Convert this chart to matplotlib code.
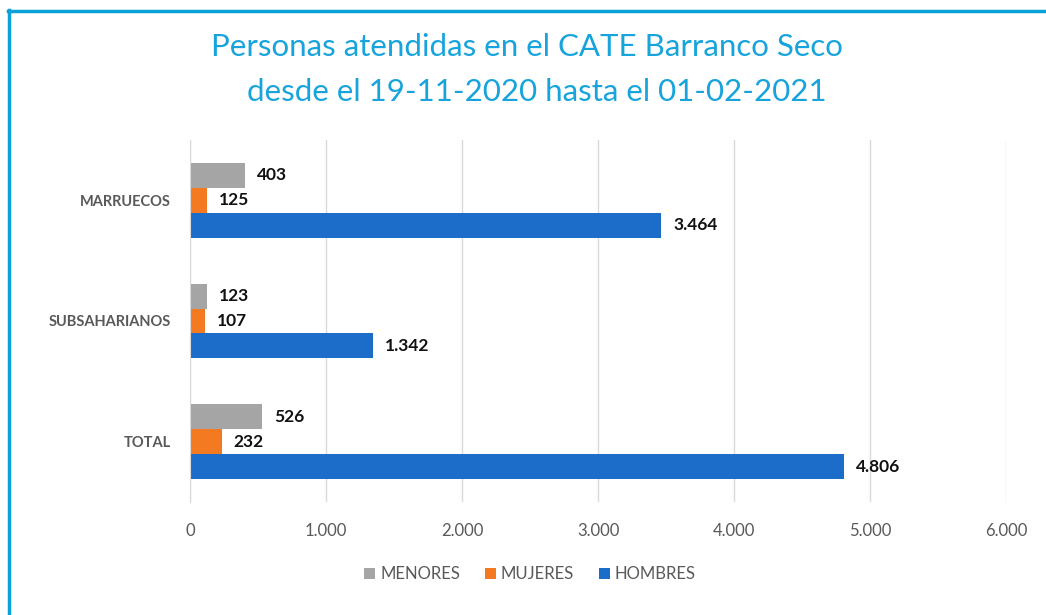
import matplotlib
matplotlib.use("Agg")
import matplotlib.pyplot as plt
import numpy as np
from matplotlib.lines import Line2D
from matplotlib.patches import Patch

categories = ["MARRUECOS", "SUBSAHARIANOS", "TOTAL"]
series_names = ["MENORES", "MUJERES", "HOMBRES"]
menores = [403, 123, 526]
mujeres = [125, 107, 232]
hombres = [3464, 1342, 4806]
xticks = [0, 1000, 2000, 3000, 4000, 5000, 6000]

colors = ["#A5A5A5", "#F37A20", "#1B6DC9"]
title_color = "#17A4DC"
frame_color = "#0AA0D8"

plt.rcParams['font.family'] = ['Lato', 'DejaVu Sans']

def fmt(v):
    return f"{v:,}".replace(",", ".")

fig = plt.figure(figsize=(10.46, 6.15), dpi=100)
ax = fig.add_axes([190/1046, 1-502/615, (1006-190)/1046, (502-140)/615])

n = len(categories)
ypos = np.arange(n)[::-1].astype(float)  # MARRUECOS top
bh = 0.207
offsets = [-bh, 0, bh]
data = [menores, mujeres, hombres]
for s, (vals, c, off) in enumerate(zip(data, colors, offsets)):
    y = ypos - off
    ax.barh(y, vals, height=bh, color=c, zorder=3)
    for yy, v in zip(y, vals):
        ax.text(v + 90, yy, fmt(v), va='center', ha='left', fontsize=12.5,
                fontweight='bold', color='#111111', zorder=4)

ax.set_xlim(0, 6000)
ax.set_ylim(-0.5, n - 0.5)
ax.set_xticks(xticks)
ax.set_xticklabels([fmt(t) for t in xticks], fontsize=12, color='#595959')
ax.set_yticks(ypos)
ax.set_yticklabels(categories, fontsize=10.5, fontweight='bold', color='#595959')
ax.tick_params(axis='both', length=0)
ax.tick_params(axis='x', pad=15)
ax.tick_params(axis='y', pad=14)
ax.grid(axis='x', color='#D9D9D9', linewidth=1, zorder=0)
for sp in ['top', 'right', 'bottom']:
    ax.spines[sp].set_visible(False)
ax.spines['left'].set_color('#D9D9D9')
ax.spines['left'].set_zorder(5)

fig.text(527/1046, 1-47/615, "Personas atendidas en el CATE Barranco Seco",
         ha='center', va='center', fontsize=22.5, color=title_color)
fig.text(537/1046, 1-92/615, "desde el 19-11-2020 hasta el 01-02-2021",
         ha='center', va='center', fontsize=22.5, color=title_color)

handles = [Patch(facecolor=c, edgecolor='none') for c in colors]
leg = fig.legend(handles, series_names, loc='center', bbox_to_anchor=(530/1046, 1-574/615),
                 ncol=3, frameon=False, fontsize=12, handlelength=0.65, handleheight=0.65,
                 handletextpad=0.3, columnspacing=1.5)
for t in leg.get_texts():
    t.set_color('#595959')

fig.add_artist(Line2D([9/1046, 9/1046], [0, 1-10/615], color=frame_color, linewidth=2.5,
                      transform=fig.transFigure))
fig.add_artist(Line2D([8/1046, 1], [1-11/615, 1-11/615], color=frame_color, linewidth=2.5,
                      transform=fig.transFigure))

fig.savefig("out.png", dpi=100, facecolor='white')
